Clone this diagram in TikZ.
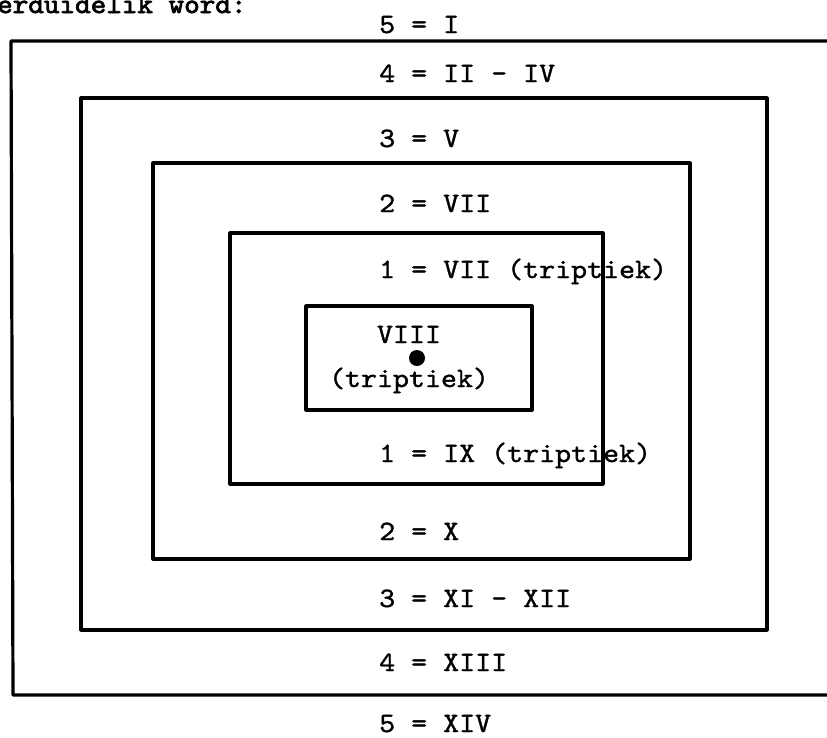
\documentclass[tikz,border=0pt]{standalone}
\usepackage{fontspec}
\newfontfamily\tw{lmmono10-regular.otf}[FakeStretch=1.088, FakeBold=1.2]
\newfontfamily\twb{lmmono10-regular.otf}[FakeStretch=1.06, FakeBold=2.6]
\begin{document}
\begin{tikzpicture}[x=1pt,y=-1pt,
  frame/.style={draw=black, line width=3.2pt, line join=round},
  lbl/.style={font=\fontsize{28}{34}\selectfont\tw, anchor=base west, inner sep=0pt},
  clbl/.style={font=\fontsize{28}{34}\selectfont\tw, anchor=base, inner sep=0pt}]
\useasboundingbox (0,0) rectangle (827,737);
\clip (0,0) rectangle (827,737);
% boxes
\draw[frame] (840,41) -- (11,41) -- (13,695) -- (840,695);
\draw[frame] (81,98) rectangle (767,630);
\draw[frame] (153,163) rectangle (690,559);
\draw[frame] (230,233) rectangle (603,484);
\draw[frame] (306,306) rectangle (532,410);
% heading
\node[lbl, font=\fontsize{28}{34}\selectfont\twb] (head) at (-3,13) {erduidelik word:};
% labels
\node[lbl] (t5a) at (379,33) {5 = I};
\node[lbl] (t4a) at (379,82) {4 = II - IV};
\node[lbl] (t3a) at (379,147) {3 = V};
\node[lbl] (t2a) at (379,212) {2 = VII};
\node[lbl] (t1a) at (379,278) {1 = VII (triptiek)};
\node[clbl] (c1) at (409,343) {VIII};
\fill (417,358) circle (8);
\node[clbl] (c2) at (409,387) {(triptiek)};
\node[lbl] (t1b) at (379,462) {1 = IX (triptiek)};
\node[lbl] (t2b) at (379,540) {2 = X};
\node[lbl] (t3b) at (379,607) {3 = XI - XII};
\node[lbl] (t4b) at (379,671) {4 = XIII};
\node[lbl] (t5b) at (379,732) {5 = XIV};
\end{tikzpicture}
\end{document}
